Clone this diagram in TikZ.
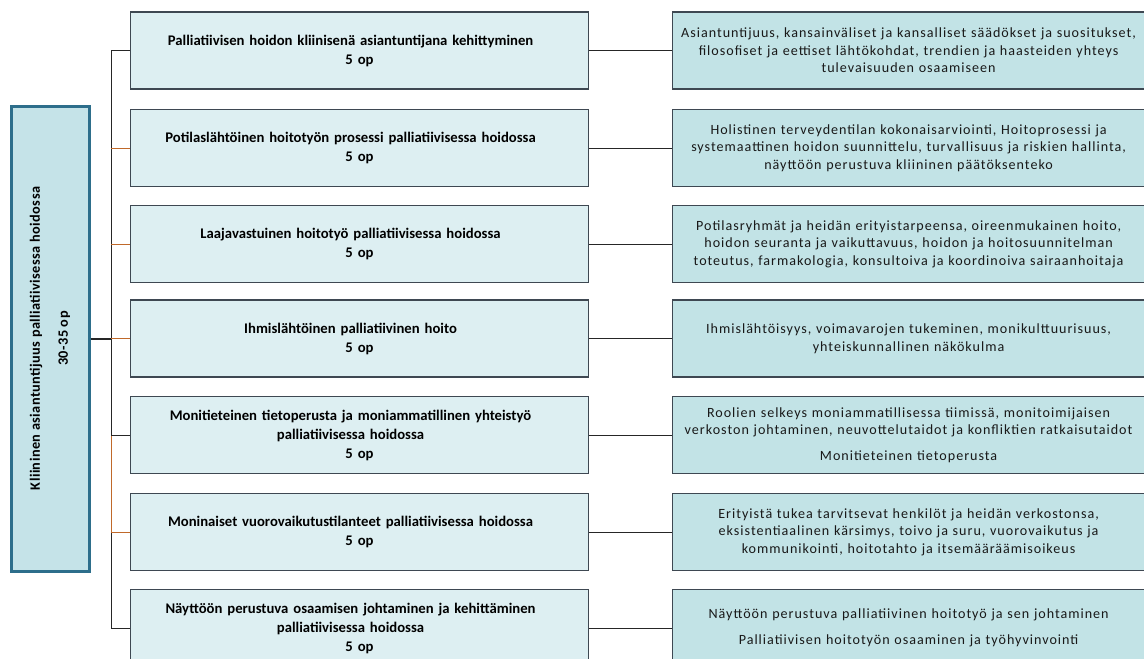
\documentclass[tikz,border=0pt]{standalone}
\usepackage{fontspec}
\setmainfont{Carlito}
\newfontfamily\spacedfont[LetterSpace=7]{Carlito}
\newfontfamily\rootfont[LetterSpace=3]{Carlito}
\definecolor{midfill}{HTML}{DDEFF2}
\definecolor{rightfill}{HTML}{C2E3E6}
\definecolor{rootfill}{HTML}{C5E3E8}
\definecolor{rootline}{HTML}{2D6E8B}
\definecolor{boxline}{HTML}{3E4852}
\definecolor{orangeline}{HTML}{C0692A}
\newcommand\leftcentered{\leftskip=0pt plus 1fil\rightskip=18pt plus 1fil\parfillskip=0pt}
\begin{document}
\begin{tikzpicture}[x=1pt,y=-1pt,
  midbox/.style={draw=boxline, line width=1.2pt, fill=midfill, minimum width=458pt, minimum height=77pt, text width=450pt, align=center, inner sep=0pt, font=\fontsize{14.7}{19}\selectfont\bfseries},
  rightbox/.style={draw=boxline, line width=1.2pt, fill=rightfill, anchor=west, minimum width=472pt, minimum height=77pt, text width=468pt, align=center, inner sep=0pt, font=\spacedfont\fontsize{14.1}{17.5}\selectfont, text=black!90},
  link/.style={draw=black!85, line width=1pt},
  olink/.style={draw=orangeline, line width=1pt}]
\useasboundingbox (0,0) rectangle (1144,659);
\clip (0,0) rectangle (1144,659);
% root
\node[draw=rootline, line width=3pt, fill=rootfill, rotate=90, minimum width=465pt, minimum height=78pt, align=center, inner sep=0pt, font=\rootfont\fontsize{14.3}{28}\selectfont\bfseries] (root) at (50,338.5) {Kliininen asiantuntijuus palliatiivisessa hoidossa\\30-35 op};
% middle boxes
\node[midbox] (m1) at (359.5,50.5) {\leftcentered Palliatiivisen hoidon kliinisenä asiantuntijana kehittyminen\\5 op};
\node[midbox] (m2) at (359.5,148) {\leftcentered Potilaslähtöinen hoitotyön prosessi palliatiivisessa hoidossa\\5 op};
\node[midbox] (m3) at (359.5,244) {\leftcentered Laajavastuinen hoitotyö palliatiivisessa hoidossa\\5 op};
\node[midbox] (m4) at (359.5,338.5) {\leftcentered Ihmislähtöinen palliatiivinen hoito\\5 op};
\node[midbox] (m5) at (359.5,435) {\leftcentered Monitieteinen tietoperusta ja moniammatillinen yhteistyö\\palliatiivisessa hoidossa\\5 op};
\node[midbox] (m6) at (359.5,532) {\leftcentered Moninaiset vuorovaikutustilanteet palliatiivisessa hoidossa\\5 op};
\node[midbox] (m7) at (359.5,628) {\leftcentered Näyttöön perustuva osaamisen johtaminen ja kehittäminen\\palliatiivisessa hoidossa\\5 op};
% right boxes
\node[rightbox] (r1) at (672,50.5) {Asiantuntijuus, kansainväliset ja kansalliset säädökset ja suositukset,\\filosofiset ja eettiset lähtökohdat, trendien ja haasteiden yhteys\\tulevaisuuden osaamiseen};
\node[rightbox] (r2) at (672,148) {Holistinen terveydentilan kokonaisarviointi, Hoitoprosessi ja\\systemaattinen hoidon suunnittelu, turvallisuus ja riskien hallinta,\\näyttöön perustuva kliininen päätöksenteko};
\node[rightbox] (r3) at (672,244) {Potilasryhmät ja heidän erityistarpeensa, oireenmukainen hoito,\\hoidon seuranta ja vaikuttavuus, hoidon ja hoitosuunnitelman\\toteutus, farmakologia, konsultoiva ja koordinoiva sairaanhoitaja};
\node[rightbox] (r4) at (672,338.5) {Ihmislähtöisyys, voimavarojen tukeminen, monikulttuurisuus,\\yhteiskunnallinen näkökulma};
\node[rightbox] (r5) at (672,435) {Roolien selkeys moniammatillisessa tiimissä, monitoimijaisen\\verkoston johtaminen, neuvottelutaidot ja konfliktien ratkaisutaidot\\[8pt]Monitieteinen tietoperusta};
\node[rightbox] (r6) at (672,532) {Erityistä tukea tarvitsevat henkilöt ja heidän verkostonsa,\\eksistentiaalinen kärsimys, toivo ja suru, vuorovaikutus ja\\kommunikointi, hoitotahto ja itsemääräämisoikeus};
\node[rightbox] (r7) at (672,628) {Näyttöön perustuva palliatiivinen hoitotyö ja sen johtaminen\\[8pt]Palliatiivisen hoitotyön osaaminen ja työhyvinvointi};
% connectors
\coordinate (vx) at (111,0);
\coordinate (j) at (111,338.5);
\draw[link] (m1.west -| vx) -- (m7.west -| vx);
\draw[olink] (m5.west -| vx) -- (m6.west -| vx);
\draw[link, line width=2pt] (root.south) -- (j);
\draw[link] (m1.west -| vx) -- (m1.west);
\draw[olink] (m2.west -| vx) -- (m2.west);
\draw[olink] (m3.west -| vx) -- (m3.west);
\draw[olink] (m4.west -| vx) -- (m4.west);
\draw[link] (m5.west -| vx) -- (m5.west);
\draw[olink] (m6.west -| vx) -- (m6.west);
\draw[link] (m7.west -| vx) -- (m7.west);
\foreach \i in {1,...,7} {\draw[link] (m\i.east) -- (r\i.west);}
\end{tikzpicture}
\end{document}
